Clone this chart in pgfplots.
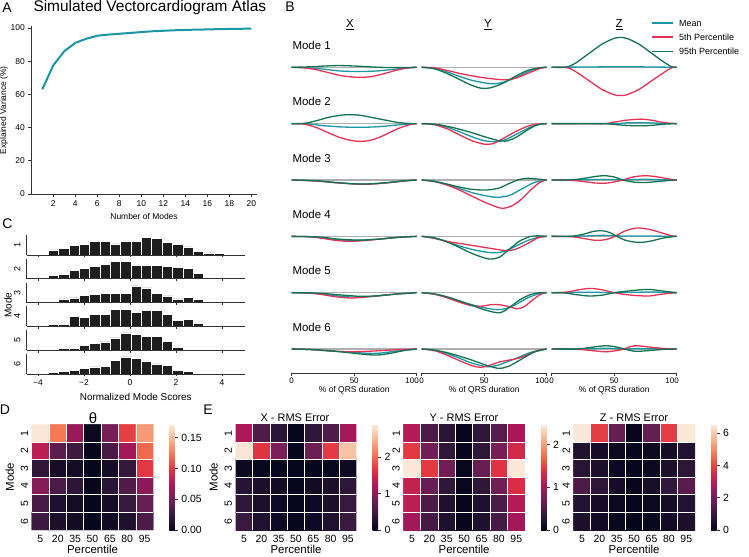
\documentclass[border=0pt]{standalone}
\usepackage{fontspec}
\setmainfont{Liberation Sans}
\usepackage{pgfplots}
\pgfplotsset{compat=1.18}

\definecolor{cmean}{RGB}{26,150,165}
\definecolor{cfive}{RGB}{230,50,85}
\definecolor{cnine}{RGB}{18,115,82}
\definecolor{cbase}{RGB}{175,175,175}
\definecolor{spine}{RGB}{50,50,50}
\definecolor{barc}{RGB}{30,30,30}

\newcommand{\fs}[1]{\fontsize{#1}{#1}\selectfont}

\pgfplotsset{
  colormap={rocket}{rgb255(0pt)=(3,5,26) rgb255(1pt)=(53,25,62) rgb255(2pt)=(112,31,87)
    rgb255(3pt)=(173,23,89) rgb255(4pt)=(225,51,66) rgb255(5pt)=(243,118,81)
    rgb255(6pt)=(246,180,143) rgb255(7pt)=(250,235,221)},
  every axis/.append style={/pgf/number format/assume math mode=true,
    tick label style={font=\fs{8.5}}, label style={font=\fs{8.5}}},
  spines/.style={axis line style={-, spine, line width=0.8bp}, tick align=outside,
    major tick length=3bp, tick style={spine, line width=0.8bp}},
  bpanel/.style={scale only axis, anchor=south west, width=125bp, height=56bp,
    xmin=0, xmax=100, ymin=-24, ymax=32, clip=false, hide axis,
    every axis plot/.append style={line width=1.3bp, smooth}},
  brow6/.style={hide x axis=false, hide y axis=true, axis x line=bottom, spines,
    xtick={0,50,100}, xticklabels={0,50,{\hspace{4bp}\makebox[0pt][r]{100}}},
    ytick=\empty, xlabel={\% of QRS duration},
    tick label style={font=\fs{8}}, xticklabel style={yshift=1.5bp},
    xlabel style={yshift=4.5bp}},
  cpanel/.style={scale only axis, anchor=south west, width=218.5bp, height=20bp,
    xmin=-4.5, xmax=5, ymin=0, ymax=60, axis x line*=bottom, axis y line*=left,
    spines, major tick length=2.5bp, xtick={-4,-2,...,4}, xticklabels={},
    ytick={30}, y tick style={draw=none}, axis on top,
    yticklabel style={rotate=90, anchor=south, font=\fs{9}}},
  cbar/.style={ybar, bar width=0.45, bar shift=0pt, fill=barc, draw=white, line width=0.7bp},
  hmap/.style={scale only axis, anchor=south west, height=105.7bp,
    xmin=-0.5, xmax=6.5, ymin=-0.5, ymax=5.5, y dir=reverse,
    axis line style={draw=none}, major tick length=0pt, minor tick length=0pt,
    xtick={0,...,6}, xticklabels={5,20,35,50,65,80,95},
    ytick={0,...,5}, yticklabels={1,2,3,4,5,6},
    yticklabel style={rotate=90, anchor=south},
    xticklabel style={yshift=-2bp},
    tick label style={font=\fs{10.5}}, label style={font=\fs{11.5}},
    xlabel={Percentile}, xlabel style={yshift=4.5bp},
    minor xtick={0.5,1.5,...,5.5}, minor ytick={0.5,1.5,...,4.5},
    grid=minor, minor grid style={white, line width=0.7bp}, axis on top,
    colormap name=rocket, point meta min=0, colorbar},
  cbstyle/.style={colorbar style={at={(parent axis.north east)}, anchor=north west,
    xshift=7.5bp, scale only axis, width=5.5bp, height=105.7bp,
    axis line style={draw=none}, ytick pos=right, tick align=outside,
    major tick length=3bp, tick style={spine, line width=0.7bp},
    yticklabel style={font=\fs{10.5}}, #1}},
}

\begin{document}
\begin{tikzpicture}
\path[use as bounding box] (0,0) rectangle (749bp,557bp);

% ---------------- A ----------------
\node[font=\fs{14}] at (7bp,549bp) {A};
\node[font=\fs{15.5}, anchor=west] at (30bp,549bp) {Simulated Vectorcardiogram Atlas};
\begin{axis}[at={(31.3bp,363bp)}, anchor=south west, scale only axis,
  width=225.5bp, height=167.7bp, xmin=0, xmax=20.5, ymin=0, ymax=101,
  axis x line*=bottom, axis y line*=left, spines,
  xtick={2,4,...,20}, ytick={0,20,...,100},
  xlabel={Number of Modes}, ylabel={Explained Variance (\%)}, ylabel shift=-4bp]
\addplot[cmean, line width=2bp] coordinates {
  (1,63) (2,77.5) (3,86) (4,91) (5,93.5) (6,95.3) (7,96) (8,96.5) (9,97) (10,97.5)
  (11,98) (12,98.3) (13,98.6) (14,98.8) (15,99) (16,99.1) (17,99.3) (18,99.4) (19,99.5) (20,99.6)};
\end{axis}

% ---------------- B ----------------
\node[font=\fs{14}] at (290bp,550bp) {B};
\node[font=\fs{11.5}] at (350bp,532bp) {\underline{X}};
\node[font=\fs{11.5}] at (488bp,532bp) {\underline{Y}};
\node[font=\fs{11.5}] at (619bp,532bp) {\underline{Z}};
\foreach \m/\yy in {1/511.7, 2/455.35, 3/399, 4/342.65, 5/286.3, 6/229.95}
  \node[font=\fs{11.5}, anchor=west] at (289bp,\yy bp) {Mode \m};

% legend
\foreach \c/\yy/\t in {cmean/534/Mean, cfive/520/5th Percentile, cnine/505.5/95th Percentile}{
  \draw[\c, line width=1.3bp] (652bp,\yy bp) -- (673bp,\yy bp);
  \node[font=\fs{9}, anchor=west, inner sep=0pt] at (679bp,\yy bp) {\t};
}

% Mode 1
\begin{axis}[bpanel, at={(291.7bp,465.7bp)}]
\addplot[cbase] coordinates {(0,0) (100,0)};
\addplot[cmean] coordinates {(0,0)(20,-1.2)(30,-2.5)(40,-3.8)(55,-4.3)(70,-3.5)(85,-1.5)(100,0)};
\addplot[cfive] coordinates {(0,0)(10,-0.5)(20,-2.5)(30,-5.5)(40,-8.5)(50,-9.8)(57,-10)(65,-9)(75,-6)(85,-2.5)(95,-0.3)(100,0)};
\addplot[cnine] coordinates {(0,0)(15,0.5)(30,1.5)(40,1.7)(55,1)(70,0)(85,-0.3)(100,0)};
\end{axis}
\begin{axis}[bpanel, at={(421.7bp,465.7bp)}]
\addplot[cbase] coordinates {(0,0) (100,0)};
\addplot[cmean] coordinates {(0,0)(10,-1)(20,-4.5)(30,-9)(40,-13)(50,-15.5)(58,-16.5)(65,-15)(75,-10.5)(85,-4.5)(95,-0.5)(100,0)};
\addplot[cfive] coordinates {(0,0)(10,-0.5)(20,-3)(30,-6)(40,-8.5)(50,-10.5)(60,-12)(68,-12.5)(75,-11)(85,-6)(95,-1)(100,0)};
\addplot[cnine] coordinates {(0,0)(10,-1.5)(20,-6)(30,-12)(40,-18)(48,-21)(55,-20.5)(65,-16)(75,-9)(85,-3)(95,-0.3)(100,0)};
\end{axis}
\begin{axis}[bpanel, at={(551.7bp,465.7bp)}]
\addplot[cbase] coordinates {(0,0) (100,0)};
\addplot[cmean] coordinates {(0,0)(30,0.3)(55,0.6)(80,0.3)(100,0)};
\addplot[cfive] coordinates {(0,0)(10,0)(15,-1.5)(20,-5)(30,-13.5)(40,-22)(50,-27.5)(55,-28.3)(60,-27.5)(70,-22)(80,-13.5)(90,-5)(96,-0.5)(100,0)};
\addplot[cnine] coordinates {(0,0)(10,0)(15,1.5)(20,5)(30,14)(40,23)(50,29)(55,29.7)(60,29)(70,23)(80,14)(90,5)(96,0.5)(100,0)};
\end{axis}

% Mode 2
\begin{axis}[bpanel, at={(291.7bp,409.35bp)}]
\addplot[cbase] coordinates {(0,0) (100,0)};
\addplot[cmean] coordinates {(0,0)(15,-0.5)(25,-2)(40,-3.3)(55,-3.7)(70,-3)(85,-1.3)(100,0)};
\addplot[cfive] coordinates {(0,0)(10,-0.5)(20,-4)(30,-9.5)(40,-14.5)(50,-17.3)(57,-17.7)(65,-16)(75,-11)(85,-5)(95,-0.8)(100,0)};
\addplot[cnine] coordinates {(0,0)(10,0.3)(20,3)(30,6.5)(40,8.5)(47,9)(55,8.3)(65,6)(75,3.5)(85,1.2)(95,0)(100,0)};
\end{axis}
\begin{axis}[bpanel, at={(421.7bp,409.35bp)}]
\addplot[cbase] coordinates {(0,0) (100,0)};
\addplot[cmean] coordinates {(0,0)(10,-0.8)(20,-3.5)(30,-8)(40,-13)(50,-17)(60,-18)(68,-15.5)(78,-9)(88,-3)(96,-0.3)(100,0)};
\addplot[cfive] coordinates {(0,0)(10,-1)(20,-5)(30,-11)(40,-17)(50,-20.5)(57,-20)(65,-15)(75,-8)(85,-2.5)(92,-0.5)(100,0)};
\addplot[cnine] coordinates {(0,0)(10,-0.5)(20,-2.5)(30,-5.5)(40,-9)(50,-13)(60,-16.5)(67,-17.5)(75,-14)(85,-6)(93,-1)(100,0)};
\end{axis}
\begin{axis}[bpanel, at={(551.7bp,409.35bp)}]
\addplot[cbase] coordinates {(0,0) (100,0)};
\addplot[cmean] coordinates {(0,0)(50,0)(60,0.8)(72,1)(82,0.6)(100,0)};
\addplot[cfive] coordinates {(0,0)(40,0)(50,1.5)(60,3.5)(72,4.5)(82,3)(90,1)(100,0)};
\addplot[cnine] coordinates {(0,0)(40,0)(50,-0.8)(60,-1.8)(72,-2.2)(82,-1.5)(90,-0.5)(100,0)};
\end{axis}

% Mode 3
\begin{axis}[bpanel, at={(291.7bp,353bp)}]
\addplot[cbase] coordinates {(0,0) (100,0)};
\addplot[cmean] coordinates {(0,0)(20,-0.9)(35,-2.6)(50,-3.9)(60,-4.1)(75,-2.9)(90,-0.9)(100,0)};
\addplot[cfive] coordinates {(0,0)(20,-1)(35,-2.7)(50,-4)(60,-4.3)(75,-3)(90,-1)(100,0)};
\addplot[cnine] coordinates {(0,0)(20,-0.8)(35,-2.5)(50,-3.8)(60,-4)(75,-2.8)(90,-0.8)(100,0)};
\end{axis}
\begin{axis}[bpanel, at={(421.7bp,353bp)}]
\addplot[cbase] coordinates {(0,0) (100,0)};
\addplot[cmean] coordinates {(0,0)(10,-1.3)(20,-4.5)(30,-8.5)(40,-12.5)(50,-15.5)(60,-17.3)(70,-15.5)(80,-9)(90,-2.5)(100,0)};
\addplot[cfive] coordinates {(0,0)(10,-1.5)(20,-5)(30,-10)(40,-16)(50,-22)(60,-27)(65,-28.3)(72,-26)(80,-19)(88,-9)(95,-2)(100,0)};
\addplot[cnine] coordinates {(0,0)(10,-1.3)(20,-4)(30,-7)(40,-9.3)(52,-10)(62,-8)(70,-3.5)(78,0.5)(85,1.7)(92,1)(100,0)};
\end{axis}
\begin{axis}[bpanel, at={(551.7bp,353bp)}]
\addplot[cbase] coordinates {(0,0) (100,0)};
\addplot[cmean] coordinates {(0,0)(25,0.3)(42,0.6)(50,0.3)(57,0)(65,0.4)(75,0.7)(85,0.4)(100,0)};
\addplot[cfive] coordinates {(0,0)(15,-0.3)(25,-1.5)(35,-3)(42,-3.3)(50,-2)(57,0)(65,3)(75,4.3)(85,3)(95,0.8)(100,0)};
\addplot[cnine] coordinates {(0,0)(15,0)(25,1.5)(35,3.5)(42,4.3)(50,3)(57,0)(65,-2)(75,-2.5)(85,-1.5)(95,-0.3)(100,0)};
\end{axis}

% Mode 4
\begin{axis}[bpanel, at={(291.7bp,296.65bp)}]
\addplot[cbase] coordinates {(0,0) (100,0)};
\addplot[cmean] coordinates {(0,0)(15,-0.4)(25,-1.6)(35,-3.2)(45,-4)(55,-4)(70,-2.7)(85,-1)(100,0)};
\addplot[cfive] coordinates {(0,0)(15,-0.5)(25,-2)(35,-4)(45,-5)(55,-4.5)(70,-2.8)(85,-1)(100,0)};
\addplot[cnine] coordinates {(0,0)(15,-0.3)(25,-1)(35,-2.5)(45,-3.3)(55,-3.8)(70,-2.8)(85,-1)(100,0)};
\end{axis}
\begin{axis}[bpanel, at={(421.7bp,296.65bp)}]
\addplot[cbase] coordinates {(0,0) (100,0)};
\addplot[cmean] coordinates {(0,0)(10,-1.5)(20,-5)(30,-9.5)(40,-13)(50,-15.5)(58,-16.5)(66,-15)(75,-10)(85,-4)(95,-0.5)(100,0)};
\addplot[cfive] coordinates {(0,0)(10,-2)(20,-5)(30,-7)(40,-9)(50,-11)(60,-13)(68,-14.3)(75,-13)(85,-7)(93,-1.5)(100,0)};
\addplot[cnine] coordinates {(0,0)(10,-1.5)(20,-5.5)(30,-11)(40,-17)(50,-21.5)(55,-22.7)(62,-21)(70,-13)(78,-5)(86,-0.5)(92,0.5)(100,0)};
\end{axis}
\begin{axis}[bpanel, at={(551.7bp,296.65bp)}]
\addplot[cbase] coordinates {(0,0) (100,0)};
\addplot[cmean] coordinates {(0,0)(25,0.3)(40,1)(52,0.5)(65,0.3)(80,0.3)(100,0)};
\addplot[cfive] coordinates {(0,0)(15,-0.3)(25,-2)(35,-4)(42,-3.5)(48,-1.5)(52,1)(58,5)(65,7.8)(70,8.3)(78,7)(88,3.5)(96,0.5)(100,0)};
\addplot[cnine] coordinates {(0,0)(15,0)(25,2)(33,4.8)(40,5.7)(47,3.5)(52,0)(58,-3.5)(65,-5.5)(72,-6)(80,-4.5)(90,-1.5)(100,0)};
\end{axis}

% Mode 5
\begin{axis}[bpanel, at={(291.7bp,240.3bp)}]
\addplot[cbase] coordinates {(0,0) (100,0)};
\addplot[cmean] coordinates {(0,0)(15,-0.3)(25,-1.5)(35,-3)(47,-4.3)(58,-4.2)(70,-3)(85,-1.2)(100,0)};
\addplot[cfive] coordinates {(0,0)(15,-0.5)(25,-2)(35,-4)(47,-5.3)(58,-4.5)(70,-3)(85,-1.2)(100,0)};
\addplot[cnine] coordinates {(0,0)(15,-0.2)(25,-0.8)(35,-1.8)(47,-3)(57,-3.7)(70,-3)(85,-1.2)(100,0)};
\end{axis}
\begin{axis}[bpanel, at={(421.7bp,240.3bp)}]
\addplot[cbase] coordinates {(0,0) (100,0)};
\addplot[cmean] coordinates {(0,0)(10,-1.3)(20,-4.5)(30,-8.5)(40,-12)(50,-15)(60,-17)(67,-16)(75,-12)(85,-5)(95,-0.5)(100,0)};
\addplot[cfive] coordinates {(0,0)(10,-1.5)(20,-5)(30,-9.5)(40,-13)(48,-13.5)(55,-12)(62,-12)(70,-14)(76,-16)(82,-14)(90,-6)(96,-1)(100,0)};
\addplot[cnine] coordinates {(0,0)(10,-1.2)(20,-4)(30,-8)(40,-12.5)(50,-17)(60,-20)(65,-19)(72,-13)(80,-6)(88,-1.5)(95,0)(100,0)};
\end{axis}
\begin{axis}[bpanel, at={(551.7bp,240.3bp)}]
\addplot[cbase] coordinates {(0,0) (100,0)};
\addplot[cmean] coordinates {(0,0)(30,0.5)(50,0)(70,0.5)(78,0.8)(100,0)};
\addplot[cfive] coordinates {(0,0)(10,0.3)(20,2.5)(30,4.3)(40,3)(50,0)(60,-2)(70,-3)(78,-3.3)(88,-1.5)(100,0)};
\addplot[cnine] coordinates {(0,0)(10,-0.3)(20,-2)(30,-3.3)(40,-2.5)(50,0)(60,1.5)(70,2.8)(78,3.3)(88,1.8)(100,0)};
\end{axis}

% Mode 6
\begin{axis}[bpanel, brow6, at={(291.7bp,183.95bp)}]
\addplot[cbase] coordinates {(0,0) (100,0)};
\addplot[cmean] coordinates {(0,0)(15,-0.5)(30,-1.7)(45,-3)(60,-4.2)(68,-4.3)(78,-3)(90,-1)(100,0)};
\addplot[cfive] coordinates {(0,0)(15,-0.5)(30,-1.8)(44,-2.7)(55,-2.5)(65,-2)(80,-1)(90,-0.3)(100,0)};
\addplot[cnine] coordinates {(0,0)(15,-0.5)(30,-1.8)(45,-3.5)(58,-5.3)(68,-6)(78,-4.5)(90,-1.5)(100,0)};
\end{axis}
\begin{axis}[bpanel, brow6, at={(421.7bp,183.95bp)}]
\addplot[cbase] coordinates {(0,0) (100,0)};
\addplot[cmean] coordinates {(0,0)(10,-1.2)(20,-4.5)(30,-9)(40,-14)(52,-17.7)(60,-16.5)(68,-13)(78,-8)(88,-3)(100,0)};
\addplot[cfive] coordinates {(0,0)(10,-1.5)(20,-6)(30,-11.5)(40,-16.5)(47,-18.3)(55,-16)(62,-13)(70,-11)(78,-9)(86,-5)(94,-1)(100,0)};
\addplot[cnine] coordinates {(0,0)(10,-1)(20,-3.5)(30,-7)(40,-11)(50,-15.5)(58,-18.5)(63,-19.3)(70,-17)(80,-10)(90,-3)(100,0)};
\end{axis}
\begin{axis}[bpanel, brow6, at={(551.7bp,183.95bp)}]
\addplot[cbase] coordinates {(0,0) (100,0)};
\addplot[cmean] coordinates {(0,0)(30,0.3)(43,0.8)(52,0.4)(58,0)(68,0.4)(80,0.3)(100,0)};
\addplot[cfive] coordinates {(0,0)(20,-0.3)(30,-1.3)(43,-2.7)(52,-1.5)(58,0)(63,2.5)(68,3.3)(78,2)(90,0.5)(100,0)};
\addplot[cnine] coordinates {(0,0)(20,0)(30,1.5)(43,3.3)(52,2)(58,0)(63,-1.5)(68,-2.3)(78,-1.5)(90,-0.3)(100,0)};
\end{axis}

% ---------------- C ----------------
\node[font=\fs{14}] at (7.5bp,333bp) {C};
\node[font=\fs{10}, rotate=90] at (8bp,252bp) {Mode};
\begin{axis}[cpanel, at={(26.5bp,302bp)}, yticklabels={1}]
\addplot[cbar] coordinates {(-3.325,15)(-2.875,20)(-2.425,29)(-1.975,31)(-1.525,40)(-1.075,40)(-0.625,33)(-0.175,41)(0.275,40)(0.725,52)(1.175,50)(1.625,37)(2.075,32)(2.525,24)(2.975,10)(3.425,6)(3.875,4)};
\end{axis}
\begin{axis}[cpanel, at={(26.5bp,278.2bp)}, yticklabels={2}]
\addplot[cbar] coordinates {(-3.775,4)(-3.325,10)(-2.875,13)(-2.425,24)(-1.975,30)(-1.525,37)(-1.075,44)(-0.625,52)(-0.175,51)(0.275,39)(0.725,39)(1.175,39)(1.625,38)(2.075,34)(2.525,32)(2.975,15)(3.425,4)};
\end{axis}
\begin{axis}[cpanel, at={(26.5bp,254.4bp)}, yticklabels={3}]
\addplot[cbar] coordinates {(-3.325,4)(-2.875,11)(-2.425,14)(-1.975,22)(-1.525,25)(-1.075,28)(-0.625,27)(-0.175,28)(0.275,50)(0.725,44)(1.175,28)(1.625,20)(2.075,11)(2.525,15)(2.975,10)};
\end{axis}
\begin{axis}[cpanel, at={(26.5bp,230.6bp)}, yticklabels={4}]
\addplot[cbar] coordinates {(-3.325,5)(-2.875,6)(-2.425,30)(-1.975,26)(-1.525,37)(-1.075,37)(-0.625,50)(-0.175,50)(0.275,42)(0.725,47)(1.175,47)(1.625,35)(2.075,17)(2.525,20)(2.975,10)(3.425,3)(3.875,1)};
\end{axis}
\begin{axis}[cpanel, at={(26.5bp,206.8bp)}, yticklabels={5}]
\addplot[cbar] coordinates {(-2.875,5)(-2.425,6)(-1.975,14)(-1.525,20)(-1.075,25)(-0.625,37)(-0.175,52)(0.275,48)(0.725,42)(1.175,41)(1.625,27)(2.075,8)(2.525,3)};
\end{axis}
\begin{axis}[cpanel, at={(26.5bp,183bp)}, yticklabels={6},
  xticklabels={−4,−2,0,2,4}, xlabel={Normalized Mode Scores}, label style={font=\fs{10}}]
\addplot[cbar] coordinates {(-3.325,4)(-2.875,7)(-2.425,10)(-1.975,16)(-1.525,21)(-1.075,23)(-0.625,40)(-0.175,51)(0.275,47)(0.725,38)(1.175,30)(1.625,26)(2.075,10)(2.525,7)(2.975,2)};
\end{axis}

% ---------------- D ----------------
\node[font=\fs{14}] at (5bp,147bp) {D};
\node[font=\fs{15}] at (93bp,139bp) {θ};
\begin{axis}[hmap, at={(31.7bp,27bp)}, width=121.6bp, ylabel={Mode},
  point meta max=0.1717,
  cbstyle={ytick={0,0.05,0.1,0.15},
    yticklabel style={/pgf/number format/.cd, fixed, fixed zerofill, precision=2}}]
\addplot[matrix plot*, mesh/cols=7, point meta=explicit] table[meta=c] {
x y c
0 0 0.17
1 0 0.124
2 0 0.066
3 0 0.005
4 0 0.052
5 0 0.103
6 0 0.137
0 1 0.08
1 1 0.04
2 1 0.028
3 1 0.003
4 1 0.032
5 1 0.07
6 1 0.118
0 2 0.022
1 2 0.01
2 2 0.008
3 2 0.002
4 2 0.009
5 2 0.024
6 2 0.1
0 3 0.058
1 3 0.034
2 3 0.02
3 3 0.003
4 3 0.018
5 3 0.036
6 3 0.06
0 4 0.032
1 4 0.014
2 4 0.008
3 4 0.002
4 4 0.01
5 4 0.025
6 4 0.045
0 5 0.028
1 5 0.012
2 5 0.007
3 5 0.002
4 5 0.007
5 5 0.014
6 5 0.034
};
\end{axis}

% ---------------- E ----------------
\node[font=\fs{14}] at (208bp,147bp) {E};
\node[font=\fs{11}] at (295bp,139.5bp) {X - RMS Error};
\node[font=\fs{11}] at (464bp,139.5bp) {Y - RMS Error};
\node[font=\fs{11}] at (634bp,139.5bp) {Z - RMS Error};
\begin{axis}[hmap, at={(235.5bp,27bp)}, width=121bp, ylabel={Mode},
  point meta max=2.9, cbstyle={ytick={0,1,2}}]
\addplot[matrix plot*, mesh/cols=7, point meta=explicit] table[meta=c] {
x y c
0 0 1.25
1 0 0.6
2 0 0.33
3 0 0.05
4 0 0.35
5 0 0.6
6 0 1.2
0 1 2.85
1 1 1.65
2 1 0.9
3 1 0.05
4 1 0.8
5 1 1.7
6 1 2.6
0 2 0.08
1 2 0.06
2 2 0.05
3 2 0.03
4 2 0.05
5 2 0.06
6 2 0.1
0 3 0.3
1 3 0.2
2 3 0.12
3 3 0.05
4 3 0.12
5 3 0.2
6 3 0.35
0 4 0.35
1 4 0.2
2 4 0.1
3 4 0.04
4 4 0.1
5 4 0.22
6 4 0.42
0 5 0.45
1 5 0.25
2 5 0.1
3 5 0.04
4 5 0.1
5 5 0.25
6 5 0.45
};
\end{axis}
\begin{axis}[hmap, at={(403.3bp,27bp)}, width=121.7bp,
  point meta max=2.48, cbstyle={ytick={0,1,2}}]
\addplot[matrix plot*, mesh/cols=7, point meta=explicit] table[meta=c] {
x y c
0 0 1.1
1 0 0.5
2 0 0.28
3 0 0.04
4 0 0.3
5 0 0.55
6 0 1.05
0 1 1.45
1 1 0.7
2 1 0.3
3 1 0.04
4 1 0.3
5 1 0.75
6 1 1.3
0 2 2.45
1 2 1.45
2 2 0.7
3 2 0.05
4 2 0.65
5 2 1.4
6 2 2.45
0 3 1.2
1 3 0.65
2 3 0.3
3 3 0.05
4 3 0.3
5 3 0.7
6 3 1.35
0 4 1.15
1 4 0.5
2 4 0.2
3 4 0.04
4 4 0.2
5 4 0.5
6 4 1.1
0 5 1.0
1 5 0.45
2 5 0.2
3 5 0.04
4 5 0.2
5 5 0.45
6 5 1.0
};
\end{axis}
\begin{axis}[hmap, at={(573.3bp,27bp)}, width=121.7bp,
  point meta max=6.56, cbstyle={ytick={0,2,4,6}}]
\addplot[matrix plot*, mesh/cols=7, point meta=explicit] table[meta=c] {
x y c
0 0 6.5
1 0 3.9
2 0 1.7
3 0 0.1
4 0 1.7
5 0 3.9
6 0 6.5
0 1 0.55
1 1 0.35
2 1 0.15
3 1 0.05
4 1 0.15
5 1 0.35
6 1 0.6
0 2 0.7
1 2 0.45
2 2 0.2
3 2 0.05
4 2 0.2
5 2 0.45
6 2 0.8
0 3 1.3
1 3 0.8
2 3 0.35
3 3 0.07
4 3 0.4
5 3 0.9
6 3 1.5
0 4 0.6
1 4 0.35
2 4 0.15
3 4 0.05
4 4 0.15
5 4 0.35
6 4 0.6
0 5 0.5
1 5 0.3
2 5 0.12
3 5 0.04
4 5 0.12
5 5 0.3
6 5 0.5
};
\end{axis}
\end{tikzpicture}
\end{document}
